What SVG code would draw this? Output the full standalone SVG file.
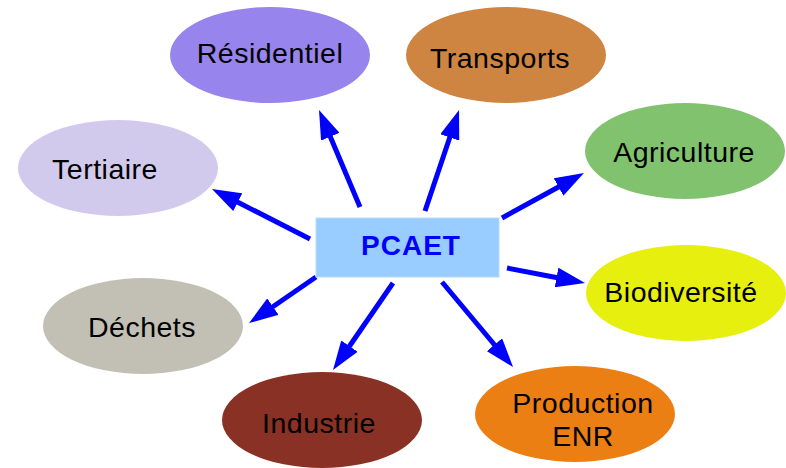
<svg xmlns="http://www.w3.org/2000/svg" width="786" height="468" viewBox="0 0 786 468">
<defs>
<style>
.lbl{font-family:"Liberation Sans",Arial,sans-serif;font-size:28.5px;fill:#000;text-anchor:middle;letter-spacing:0.5px}
.main{font-family:"Liberation Sans",Arial,sans-serif;font-size:28px;font-weight:bold;fill:#0000ff;text-anchor:middle;letter-spacing:1px}
.con{stroke:#0000ff;stroke-width:5;fill:none;marker-end:url(#ah)}
</style>
<marker id="ah" markerUnits="userSpaceOnUse" markerWidth="29" markerHeight="20" viewBox="0 0 29 20" refX="1" refY="10" orient="auto">
<path d="M0,0 L29,10 L0,20 z" fill="#0000ff"/>
</marker>
</defs>
<rect width="786" height="468" fill="#fff"/>
<g id="connectors">
<line class="con" x1="310" y1="239" x2="236.9" y2="201.7"/>
<line class="con" x1="360" y1="207" x2="329.9" y2="135.8"/>
<line class="con" x1="425" y1="211" x2="450.1" y2="136.5"/>
<line class="con" x1="502" y1="218" x2="559.4" y2="186.5"/>
<line class="con" x1="507" y1="268" x2="557.5" y2="277.7"/>
<line class="con" x1="442" y1="282" x2="495.1" y2="345.5"/>
<line class="con" x1="393" y1="283" x2="348.9" y2="347"/>
<line class="con" x1="316" y1="277" x2="272.1" y2="307.2"/>
</g>
<g id="pcaet">
<rect x="316" y="218" width="183" height="59" fill="#99ccff" stroke="#b8dcff" stroke-width="1"/>
<text class="main" x="411" y="255">PCAET</text>
</g>
<g id="residentiel">
<ellipse cx="270" cy="55" rx="100" ry="48" fill="#9784ec"/>
<text class="lbl" x="270" y="63">Résidentiel</text>
</g>
<g id="transports">
<ellipse cx="506" cy="55" rx="100" ry="48" fill="#cd8541"/>
<text class="lbl" x="500" y="68">Transports</text>
</g>
<g id="tertiaire">
<ellipse cx="118" cy="168" rx="100" ry="48" fill="#d1caec"/>
<text class="lbl" x="105" y="179">Tertiaire</text>
</g>
<g id="agriculture">
<ellipse cx="685" cy="151" rx="100" ry="48" fill="#81c26e"/>
<text class="lbl" x="684" y="162">Agriculture</text>
</g>
<g id="biodiversite">
<ellipse cx="686" cy="293" rx="100" ry="48" fill="#e6ef0e"/>
<text class="lbl" x="681" y="302">Biodiversité</text>
</g>
<g id="dechets">
<ellipse cx="143" cy="326" rx="100" ry="48" fill="#c2c0b4"/>
<text class="lbl" x="142" y="337">Déchets</text>
</g>
<g id="industrie">
<ellipse cx="322" cy="420" rx="100" ry="48" fill="#8a3125"/>
<text class="lbl" x="319" y="433">Industrie</text>
</g>
<g id="production">
<ellipse cx="575" cy="414" rx="100" ry="48" fill="#eb7f14"/>
<text class="lbl" x="583" y="413">Production</text>
<text class="lbl" x="583" y="446">ENR</text>
</g>
</svg>
